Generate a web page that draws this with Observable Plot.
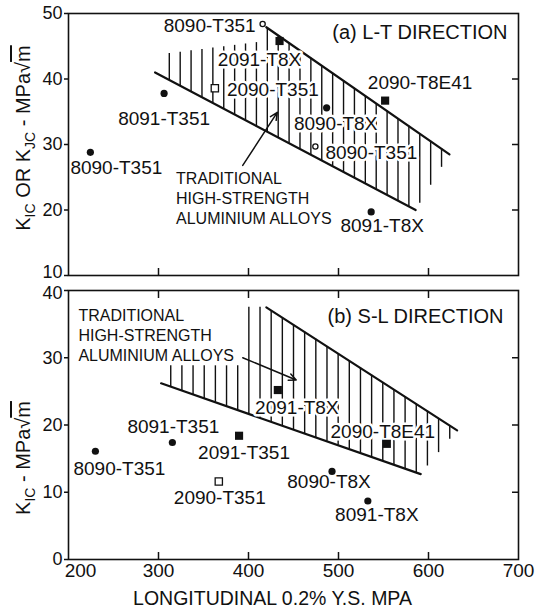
<!DOCTYPE html>
<html>
<head>
<meta charset="utf-8">
<script src="https://cdn.jsdelivr.net/npm/d3@7"></script>
<script src="https://cdn.jsdelivr.net/npm/@observablehq/plot@0.6"></script>
<style>
  html, body { margin: 0; padding: 0; background: #fff; }
  #chart { width: 536px; }
  #chart svg { display: block; }
</style>
</head>
<body>
<div id="chart"></div>
<script>
// ---- Data: fracture toughness vs longitudinal 0.2% yield strength ----

// (a) L-T direction
const alloysLT   = ["8090-T351", "8091-T351", "2090-T351", "8090-T351", "2091-T8X", "2090-T8E41", "8090-T8X", "8090-T351", "8091-T8X"];
const yieldLT    = [224.3, 306.2, 362.6, 415.7, 434.5, 551.8, 486.8, 474.3, 536.3];
const toughLT    = [28.8, 37.8, 38.6, 48.4, 45.8, 36.7, 35.6, 29.7, 19.7];
const hollowLT   = [false, false, true, true, false, false, false, true, false];

// (b) S-L direction
const alloysSL   = ["8090-T351", "8091-T351", "2091-T351", "2090-T351", "2091-T8X", "2090-T8E41", "8090-T8X", "8091-T8X"];
const yieldSL    = [229.9, 315.4, 389.5, 367.0, 432.6, 553.7, 492.8, 532.6];
const toughSL    = [16.1, 17.4, 18.4, 11.6, 25.2, 17.2, 13.1, 8.7];
const hollowSL   = [false, false, false, true, false, false, false, false];

// Scatter band of traditional high-strength aluminium alloys (yield, toughness)
const bandLowerLT = [[296.2, 41.0], [585.7, 20.0]];
const bandUpperLT = [[419.8, 47.9], [623.3, 28.5]];
const hatchFloorLT = [[296.2, 41.0], [585.7, 20.0], [623.3, 28.5]];
const hatchCeilLT  = [[296.2, 43.6], [417.0, 45.7], [419.8, 47.9], [623.3, 28.5]];

const bandLowerSL = [[302.9, 26.2], [591.3, 12.7]];
const bandUpperSL = [[419.8, 37.5], [631.8, 19.2]];
const hatchFloorSL = [[302.9, 26.2], [591.3, 12.7], [631.8, 19.2]];
const hatchCeilSL  = [[302.9, 28.8], [395.0, 28.8], [395.5, 37.5], [419.8, 37.5], [631.8, 19.2]];

// Band annotation and its pointer
const noteText = "TRADITIONAL\nHIGH-STRENGTH\nALUMINIUM ALLOYS";
const noteLT  = {x: 319.5, y: 26.1};
const noteSL  = {x: 211.0, y: 37.6};
const arrowLT = {x1: 393.6, y1: 26.8, x2: 432.0, y2: 34.9};
const arrowSL = {x1: 393.6, y1: 30.0, x2: 453.0, y2: 26.7};

// Axes
const xDomain = [200, 700];
const xTicks = [200, 300, 400, 500, 600, 700];
const xInnerTicks = [300, 400, 500, 600];
const yDomainLT = [10, 50];
const yTicksLT = [10, 20, 30, 40, 50];
const yDomainSL = [0, 40];
const yTicksSL = [0, 10, 20, 30, 40];

const titleLT = "(a) L-T DIRECTION";
const titleSL = "(b) S-L DIRECTION";
const xTitle = "LONGITUDINAL 0.2% Y.S. MPA";

// ---- Drawing ----
const FONT = "'Liberation Sans', Arial, Helvetica, sans-serif";
const INK = "#111";

// label offsets (px) from each point
const offsetsLT = [[26, 16], [0, 25], [58, 2], [-53, 2], [-20, 19], [35, -18], [9, 16], [56, 6], [11, 14]];
const offsetsSL = [[24, 18], [1, -16], [5, 17], [1, 16], [19, 18], [-4, -12], [-3, 11], [9, 14]];

function interp(poly, x) {
  for (let i = 0; i < poly.length - 1; i++) {
    const [x0, y0] = poly[i], [x1, y1] = poly[i + 1];
    if (x >= x0 && x <= x1) return x1 === x0 ? Math.max(y0, y1) : y0 + (y1 - y0) * (x - x0) / (x1 - x0);
  }
  return null;
}

function hatchLines(floor, ceil, start, step) {
  const end = floor[floor.length - 1][0];
  return d3.range(start, end, step)
    .map(x => ({x, y1: interp(floor, x), y2: interp(ceil, x)}))
    .filter(d => d.y1 != null && d.y2 != null && d.y2 > d.y1);
}

function pointsOf(names, xs, ys, hollow) {
  return names.map((name, i) => ({
    name, x: xs[i], y: ys[i], hollow: hollow[i],
    square: name.startsWith("20")
  }));
}

function pointMarks(pts) {
  return [
    Plot.dot(pts.filter(d => !d.square && !d.hollow), {x: "x", y: "y", r: 3.6, fill: INK}),
    Plot.dot(pts.filter(d => d.square && !d.hollow), {x: "x", y: "y", r: 4.6, symbol: "square", fill: INK}),
    Plot.dot(pts.filter(d => !d.square && d.hollow), {x: "x", y: "y", r: 2.6, fill: "white", stroke: INK, strokeWidth: 1.3}),
    Plot.dot(pts.filter(d => d.square && d.hollow), {x: "x", y: "y", r: 4.1, symbol: "square", fill: "white", stroke: INK, strokeWidth: 1.3})
  ];
}

function labelMarks(pts, offsets) {
  return pts.map((d, i) => Plot.text([d], {
    x: "x", y: "y", text: "name",
    dx: offsets[i][0], dy: offsets[i][1],
    fontSize: 19, fill: INK,
    stroke: "white", strokeWidth: 5, paintOrder: "stroke",
    textAnchor: "middle", lineAnchor: "middle"
  }));
}

function panel(o) {
  const pts = pointsOf(o.names, o.xs, o.ys, o.hollow);
  const hatch = hatchLines(o.floor, o.ceil, o.hatchStart, o.hatchStep);
  const yLabelTicks = o.yTicks.filter(t => t !== o.yEdgeTick);
  const marks = [
    Plot.ruleX(hatch, {x: "x", y1: "y1", y2: "y2", stroke: INK, strokeWidth: 1.4}),
    Plot.line(o.lower, {x: d => d[0], y: d => d[1], stroke: INK, strokeWidth: 2.2}),
    Plot.line(o.upper, {x: d => d[0], y: d => d[1], stroke: INK, strokeWidth: 2.2}),
    Plot.text([o.note], {x: "x", y: "y", text: () => noteText, fontSize: 16, lineHeight: 1.25,
      textAnchor: "start", lineAnchor: "top", fill: INK}),
    Plot.arrow([o.arrow], {x1: "x1", y1: "y1", x2: "x2", y2: "y2", stroke: INK, strokeWidth: 1.5,
      headLength: 8, headAngle: 50}),
    ...labelMarks(pts, o.offsets),
    ...pointMarks(pts),
    Plot.text([o.title], {text: d => d, frameAnchor: "top-right", dx: o.titleDx, dy: o.titleDy,
      textAnchor: "end", lineAnchor: "middle", fontSize: 20, fill: INK}),
    Plot.frame({stroke: INK, strokeWidth: 1.6}),
    Plot.axisY(yLabelTicks, {anchor: "left", tickSize: 4, tickPadding: 2, fontSize: 18, label: null, strokeWidth: 1.5}),
    // the tick next to the neighbouring panel is nudged away from it
    Plot.axisY([o.yEdgeTick], {anchor: "left", tickSize: 0, tickPadding: 6, fontSize: 18, label: null, dy: o.yEdgeDy}),
    Plot.axisY([o.yEdgeTick], {anchor: "left", tickSize: 4, tickFormat: () => "", label: null, strokeWidth: 1.5}),
    Plot.axisY(o.yInner, {anchor: "right", tickSize: 7, dx: -7, tickFormat: () => "", label: null, strokeWidth: 1.5}),
    Plot.axisX(xInnerTicks, {anchor: "bottom", tickSize: 7, dy: -7, tickFormat: () => "", label: null, strokeWidth: 1.5})
  ];
  if (o.topTicks) {
    marks.push(Plot.axisX(xInnerTicks, {anchor: "top", tickSize: 7, dy: 7, tickFormat: () => "", label: null, strokeWidth: 1.5}));
  }
  if (o.xLabels) {
    marks.push(Plot.axisX(xTicks.slice(1), {anchor: "bottom", tickSize: 0, tickPadding: 4, fontSize: 19, label: null}));
    marks.push(Plot.axisX(xTicks.slice(0, 1), {anchor: "bottom", tickSize: 0, tickPadding: 4, fontSize: 19, label: null, dx: 12}));
    marks.push(Plot.text([xTitle], {text: d => d, frameAnchor: "bottom", dx: -21, dy: 39,
      fontSize: 19.5, fill: INK, lineAnchor: "middle"}));
  }
  return Plot.plot({
    width: 536,
    height: o.height,
    marginLeft: 68,
    marginRight: 18,
    marginTop: o.marginTop,
    marginBottom: o.marginBottom,
    x: {domain: xDomain},
    y: {domain: o.yDomain},
    style: {fontFamily: FONT, fontSize: "19px", color: INK, background: "#fff", overflow: "visible"},
    marks
  });
}

// Rotated y-axis title with subscripts and a radical
function yTitle(svg, cy, segments) {
  const text = d3.select(svg).append("text")
    .attr("transform", `translate(30,${cy}) rotate(-90)`)
    .attr("text-anchor", "middle")
    .attr("font-family", FONT)
    .attr("font-size", 20)
    .attr("fill", INK);
  let shifted = false;
  for (const s of segments) {
    const t = text.append("tspan").text(s.t);
    if (s.sub) { t.attr("font-size", 14).attr("dy", 5); shifted = true; }
    else if (shifted) { t.attr("dy", -5); shifted = false; }
    if (s.over) t.style("text-decoration", "overline");
  }
}

const plotLT = panel({
  names: alloysLT, xs: yieldLT, ys: toughLT, hollow: hollowLT, offsets: offsetsLT,
  lower: bandLowerLT, upper: bandUpperLT, floor: hatchFloorLT, ceil: hatchCeilLT,
  hatchStart: 312, hatchStep: 12.1,
  note: noteLT, arrow: arrowLT, title: titleLT, titleDx: -11, titleDy: 19,
  yDomain: yDomainLT, yTicks: yTicksLT, yInner: [20, 30, 40], yEdgeTick: 10, yEdgeDy: -3,
  height: 283, marginTop: 13, marginBottom: 8, topTicks: false, xLabels: false
});

const plotSL = panel({
  names: alloysSL, xs: yieldSL, ys: toughSL, hollow: hollowSL, offsets: offsetsSL,
  lower: bandLowerSL, upper: bandUpperSL, floor: hatchFloorSL, ceil: hatchCeilSL,
  hatchStart: 301.2, hatchStep: 12.4,
  note: noteSL, arrow: arrowSL, title: titleSL, titleDx: -15, titleDy: 26,
  yDomain: yDomainSL, yTicks: yTicksSL, yInner: [10, 20, 30], yEdgeTick: 40, yEdgeDy: 3,
  height: 327, marginTop: 7, marginBottom: 51, topTicks: true, xLabels: true
});

yTitle(plotLT, 138, [{t: "K"}, {t: "IC", sub: true}, {t: " OR K"}, {t: "JC", sub: true}, {t: " - MPa\u221A"}, {t: "m", over: true}]);
yTitle(plotSL, 175, [{t: "K"}, {t: "IC", sub: true}, {t: " - MPa\u221A"}, {t: "m", over: true}]);

document.getElementById("chart").append(plotLT, plotSL);
</script>
</body>
</html>
